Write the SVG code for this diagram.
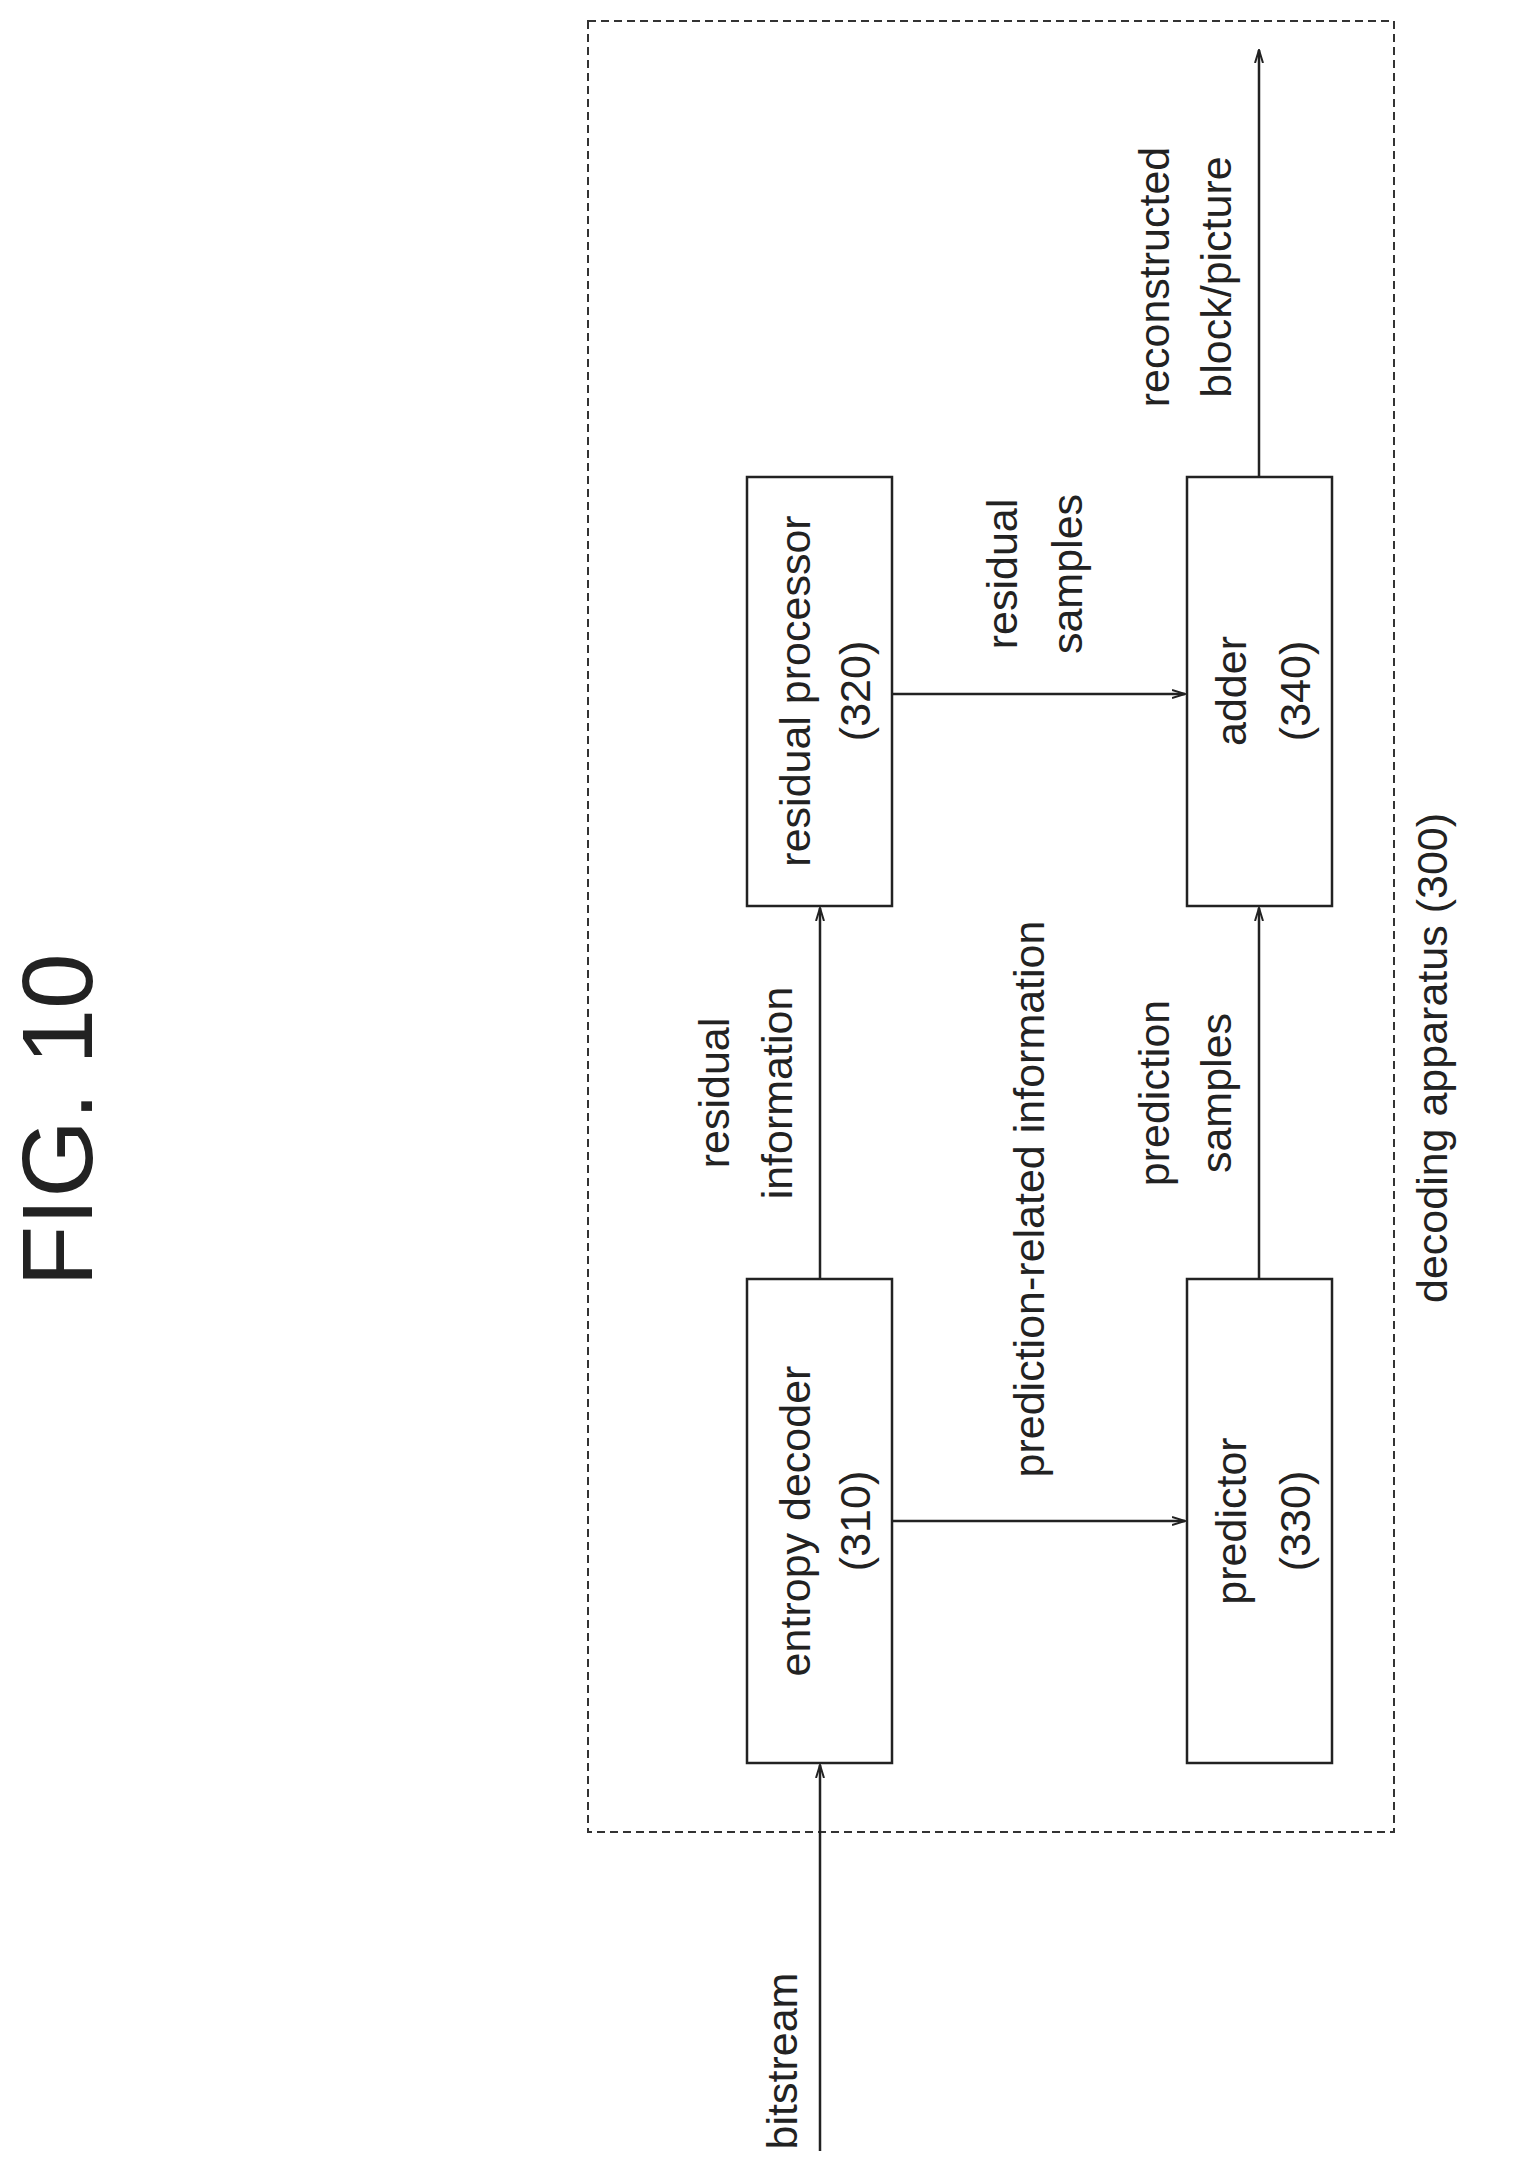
<svg xmlns="http://www.w3.org/2000/svg" width="1521" height="2181" viewBox="0 0 1521 2181">
<style>
.b{fill:#fff;stroke:#222;stroke-width:2.5}
.t{font-family:"Liberation Sans",Arial,sans-serif;font-size:43px;fill:#222;text-anchor:middle}
.c{stroke:#222;stroke-width:2.5;fill:none;marker-end:url(#a)}
</style>
<defs><marker id="a" markerWidth="14" markerHeight="10" refX="13" refY="5" orient="auto" markerUnits="userSpaceOnUse"><path d="M0,1 L13,5 L0,9" fill="none" stroke="#222" stroke-width="2"/></marker></defs>
<rect width="1521" height="2181" fill="#fff"/>
<text class="t" style="font-size:100px" transform="translate(92,1120) rotate(-90)">FIG. 10</text>
<g id="container"><rect x="588" y="21" width="806" height="1811" fill="none" stroke="#333" stroke-width="2" stroke-dasharray="8,5"/>
<text class="t" transform="translate(1447,1058) rotate(-90)">decoding apparatus (300)</text></g>
<g id="n310"><rect class="b" x="747" y="1279" width="145" height="484"/>
<text class="t" transform="translate(810,1521) rotate(-90)">entropy decoder</text>
<text class="t" transform="translate(870,1521) rotate(-90)">(310)</text></g>
<g id="n320"><rect class="b" x="747" y="477" width="145" height="429"/>
<text class="t" transform="translate(810,691) rotate(-90)">residual processor</text>
<text class="t" transform="translate(870,691) rotate(-90)">(320)</text></g>
<g id="n330"><rect class="b" x="1187" y="1279" width="145" height="484"/>
<text class="t" transform="translate(1246,1521) rotate(-90)">predictor</text>
<text class="t" transform="translate(1310,1521) rotate(-90)">(330)</text></g>
<g id="n340"><rect class="b" x="1187" y="477" width="145" height="429"/>
<text class="t" transform="translate(1246,691) rotate(-90)">adder</text>
<text class="t" transform="translate(1310,691) rotate(-90)">(340)</text></g>
<g id="connectors">
<line class="c" x1="820" y1="2151" x2="820" y2="1765"/>
<line class="c" x1="820" y1="1279" x2="820" y2="908"/>
<line class="c" x1="892" y1="1521" x2="1185" y2="1521"/>
<line class="c" x1="892" y1="694" x2="1185" y2="694"/>
<line class="c" x1="1259" y1="1279" x2="1259" y2="908"/>
<line class="c" x1="1259" y1="477" x2="1259" y2="50"/>
</g>
<g id="labels">
<text class="t" transform="translate(797,2061) rotate(-90)">bitstream</text>
<text class="t" transform="translate(729,1093) rotate(-90)">residual</text>
<text class="t" transform="translate(792,1093) rotate(-90)">information</text>
<text class="t" transform="translate(1044,1199) rotate(-90)">prediction-related information</text>
<text class="t" transform="translate(1169,1093) rotate(-90)">prediction</text>
<text class="t" transform="translate(1231,1093) rotate(-90)">samples</text>
<text class="t" transform="translate(1017,574) rotate(-90)">residual</text>
<text class="t" transform="translate(1082,574) rotate(-90)">samples</text>
<text class="t" transform="translate(1169,277) rotate(-90)">reconstructed</text>
<text class="t" transform="translate(1231,277) rotate(-90)">block/picture</text>
</g>
</svg>
